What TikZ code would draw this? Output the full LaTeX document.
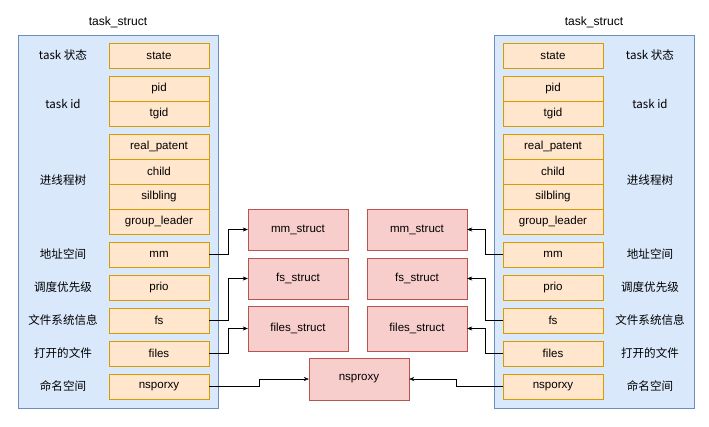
\documentclass[tikz,border=0pt]{standalone}
\usepackage{fontspec}
\setmainfont{Liberation Sans}
\newfontfamily\cjk{Noto Sans CJK SC}
\usetikzlibrary{arrows.meta}
\definecolor{panelfill}{HTML}{DAE8FC}
\definecolor{paneldraw}{HTML}{6C8EBF}
\definecolor{fieldfill}{HTML}{FFE6CC}
\definecolor{fielddraw}{HTML}{D79B00}
\definecolor{structfill}{HTML}{F8CECC}
\definecolor{structdraw}{HTML}{B85450}
\tikzset{
  field/.style={draw=fielddraw, fill=fieldfill, minimum width=3.5cm, minimum height=0.875cm, inner sep=0pt, font=\fontsize{11.5}{13}\selectfont},
  strct/.style={draw=structdraw, fill=structfill, minimum width=3.5cm, inner sep=0pt, font=\fontsize{11.5}{13}\selectfont},
  lbl/.style={font=\fontsize{11.5}{13}\selectfont\cjk},
  link/.style={-{Stealth[length=5pt,width=4pt]}, thin}
}
\begin{document}
\begin{tikzpicture}[x=0.035cm, y=-0.035cm]
\useasboundingbox (0,0) rectangle (709,426);

% the two task_struct panels
\foreach \s/\px/\fx/\lx in {L/118/159/63, R/594/553/650}{
  \node[draw=paneldraw, fill=panelfill, minimum width=7cm, minimum height=13.055cm, inner sep=0pt] (panel\s) at (\px,221.5) {};
  \node[font=\fontsize{12}{14}\selectfont] (title\s) at (\px,22) {task\_struct};
  \node[field] (state\s) at (\fx,55.5) {state};
  \node[field] (pid\s) at (\fx,88.5) {pid};
  \node[field] (tgid\s) at (\fx,113.5) {tgid};
  \node[field] (parent\s) at (\fx,146.5) {real\_patent};
  \node[field] (child\s) at (\fx,171.5) {child};
  \node[field] (sibling\s) at (\fx,196.5) {silbling};
  \node[field] (leader\s) at (\fx,221.5) {group\_leader};
  \node[field] (mm\s) at (\fx,254.5) {mm};
  \node[field] (prio\s) at (\fx,287.5) {prio};
  \node[field] (fs\s) at (\fx,320.5) {fs};
  \node[field] (files\s) at (\fx,353.5) {files};
  \node[field] (ns\s) at (\fx,386.5) {nsporxy};
  % labels beside the fields
  \node[lbl] (lstate\s) at (\lx,55.5) {task 状态};
  \node[lbl] (lid\s) at (\lx,104) {task id};
  \node[lbl] (ltree\s) at (\lx,180) {进线程树};
  \node[lbl] (lmm\s) at (\lx,254.5) {地址空间};
  \node[lbl] (lprio\s) at (\lx,287.5) {调度优先级};
  \node[lbl] (lfs\s) at (\lx,320.5) {文件系统信息};
  \node[lbl] (lfiles\s) at (\lx,353.5) {打开的文件};
  \node[lbl] (lns\s) at (\lx,386.5) {命名空间};
}

% shared structs
\foreach \s/\x in {L/298, R/417}{
  \node[strct, minimum height=1.435cm] (mmstr\s) at (\x,229.5) {mm\_struct};
  \node[strct, minimum height=1.435cm] (fsstr\s) at (\x,278.5) {fs\_struct};
  \node[strct, minimum height=1.575cm] (filesstr\s) at (\x,328.5) {files\_struct};
}
\node[strct, minimum height=1.47cm] (nsproxy) at (359,379) {nsproxy};

\draw[link] (mmL.east) -- ++(19,0) |- (mmstrL.west);
\draw[link] (fsL.east) -- ++(19,0) |- (fsstrL.west);
\draw[link] (filesL.east) -- ++(19,0) |- (filesstrL.west);
\draw[link] (nsL.east) -- ++(50,0) |- (nsproxy.west);

\draw[link] (mmR.west) -- ++(-18,0) |- (mmstrR.east);
\draw[link] (fsR.west) -- ++(-18,0) |- (fsstrR.east);
\draw[link] (filesR.west) -- ++(-18,0) |- (filesstrR.east);
\draw[link] (nsR.west) -- ++(-47,0) |- (nsproxy.east);
\end{tikzpicture}
\end{document}
